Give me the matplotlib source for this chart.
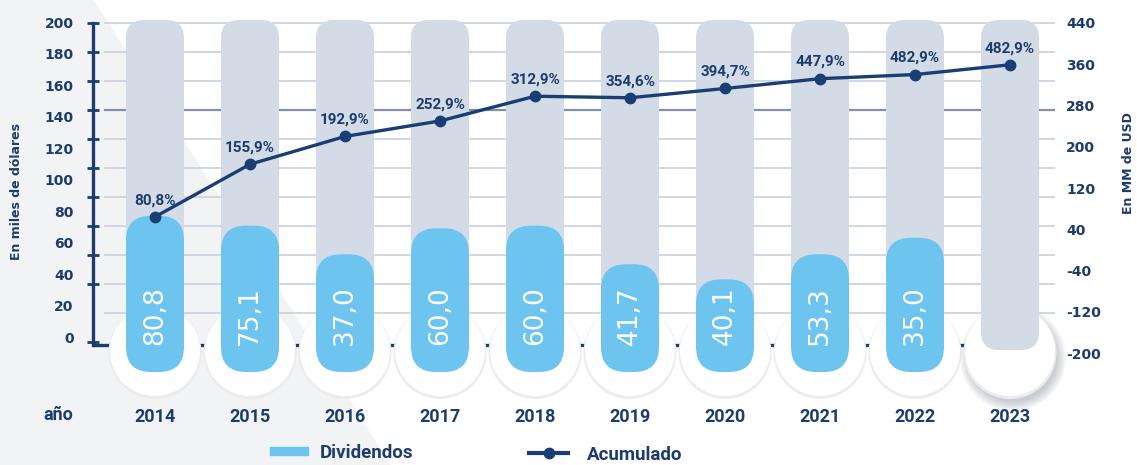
import matplotlib.pyplot as plt
import numpy as np
from matplotlib.patches import FancyBboxPatch, Ellipse, Polygon, Patch
from matplotlib.lines import Line2D

plt.rcParams['axes.unicode_minus'] = False

anios = ['2014', '2015', '2016', '2017', '2018', '2019', '2020', '2021', '2022', '2023']
# dividendos (en miles de dolares), texto de cada barra
dividendos = [80.8, 75.1, 37.0, 60.0, 60.0, 41.7, 40.1, 53.3, 35.0]
# nivel de relleno de cada barra tal como esta dibujado en el grafico (eje izq.)
nivel_barra = [77.0, 70.7, 52.5, 69.0, 70.7, 46.2, 36.6, 52.5, 63.0]
# acumulado: posicion de cada punto sobre el eje derecho y su etiqueta
acumulado = [64, 166, 220, 250, 298, 295, 313, 332, 340, 359]
acumulado_txt = ['80,8%', '155,9%', '192,9%', '252,9%', '312,9%',
                 '354,6%', '394,7%', '447,9%', '482,9%', '482,9%']
ticks_izq = list(range(0, 201, 20))
ticks_der = list(range(-200, 441, 80))

NAVY = '#1d3c6c'
AZUL = '#6cc4ef'
GRIS = '#d3dbe6'

W, H = 1137, 465
fig = plt.figure(figsize=(W / 100, H / 100), dpi=100)
fig.patch.set_facecolor('white')

# fondo diagonal gris claro
fig.add_artist(Polygon([(0, 1), (93 / W, 1), (390 / W, 0), (0, 0)], closed=True,
                       transform=fig.transFigure, color='#f2f3f5', zorder=-10))

top_px, bot_px = 10, 400
left_px, right_px = 93, 1055
pos = [left_px / W, 1 - bot_px / H, (right_px - left_px) / W, (bot_px - top_px) / H]


def ylim_for(v1, p1, v2, p2):
    s = (v1 - v2) / (p2 - p1)
    return (v2 - (bot_px - p2) * s, v1 + (p1 - top_px) * s)


axg = fig.add_axes(pos)   # rejilla y eje izquierdo
ax = fig.add_axes(pos)    # barras y etiquetas izquierdas
ax2 = fig.add_axes(pos)   # linea acumulado (eje derecho)

x = np.arange(len(anios))
xlim = ((left_px - 155) / 95, (right_px - 155) / 95)
for a in (axg, ax, ax2):
    a.set_xlim(*xlim)
    a.set_facecolor('none')
    for s in a.spines.values():
        s.set_visible(False)

axg.set_ylim(*ylim_for(200, 22.7, 0, 313.2))
ax.set_ylim(*ylim_for(200, 22, 0, 337))
ax2.set_ylim(*ylim_for(440, 23, -200, 353))

# rejilla
gx0 = (105 - left_px) / (right_px - left_px)
for v in ticks_izq:
    if v == 140:
        axg.axhline(v, xmin=gx0, color='#8190a8', lw=1.6, zorder=1)
    else:
        axg.axhline(v, xmin=gx0, color='#c9d1dd', lw=1.2, zorder=1)
axg.axhline(-22, color=NAVY, lw=2.4, zorder=1)
axg.spines['left'].set_visible(True)
axg.spines['left'].set_bounds(-22, 200)
axg.spines['left'].set_color(NAVY)
axg.spines['left'].set_linewidth(2.4)
axg.set_yticks([-20] + ticks_izq[1:])
axg.tick_params(axis='y', direction='inout', length=9, width=2, color=NAVY, labelleft=False)
axg.set_xticks([])

# escalas en unidades por pixel
ux = (xlim[1] - xlim[0]) / (right_px - left_px)
uy = 200 / (337 - 22)
asp = uy / ux

w = 58 * ux
gris_top, gris_bot = (337 - 20) * uy, (337 - 350) * uy
azul_bot = (337 - 372) * uy
circ_y = (337 - 351) * uy

for i in x:
    # sombra y circulo blanco
    if i == len(anios) - 1:
        for k in range(7):
            ax.add_patch(Ellipse((i + 3 * ux, circ_y - 7 * uy), (88 + 3 * k) * ux, (88 + 3 * k) * uy,
                                 color='#5d6473', alpha=0.05, lw=0, zorder=2, clip_on=False))
    ax.add_patch(Ellipse((i, circ_y - 1.5 * uy), 93 * ux, 93 * uy, color='#eaecef', lw=0,
                         zorder=2, clip_on=False))
    ax.add_patch(Ellipse((i, circ_y), 90 * ux, 90 * uy, color='white', lw=0, zorder=3,
                         clip_on=False))
    # capsula gris
    ax.add_patch(FancyBboxPatch((i - w / 2, gris_bot), w, gris_top - gris_bot,
                                boxstyle=f'round,pad=0,rounding_size={18 * ux}',
                                mutation_aspect=asp, fc=GRIS, ec='none', zorder=4))

for i, (v, t) in enumerate(zip(nivel_barra, dividendos)):
    ax.add_patch(FancyBboxPatch((i - w / 2, azul_bot), w, v - azul_bot,
                                boxstyle=f'round,pad=0,rounding_size={25 * ux}',
                                mutation_aspect=asp, fc=AZUL, ec='none', zorder=5))
    ax.text(i, (337 - 316) * uy, f'{t:.1f}'.replace('.', ','), rotation=90, color='white',
            fontsize=19, ha='center', va='center', zorder=6)

ax.set_xticks(x, anios)
ax.tick_params(axis='x', length=0, pad=6, labelsize=13, labelcolor=NAVY)
for lab in ax.get_xticklabels():
    lab.set_fontfamily('Roboto')
    lab.set_fontweight('bold')
ax.set_yticks(ticks_izq)
ax.tick_params(axis='y', length=0, pad=14, labelsize=10, labelcolor=NAVY)
for lab in ax.get_yticklabels():
    lab.set_fontweight('bold')

# linea acumulado
ax2.plot(x, acumulado, color='#1a3e74', lw=2.4, marker='o', ms=7.5, zorder=5)
for i, (v, t) in enumerate(zip(acumulado, acumulado_txt)):
    ax2.annotate(t, (i, v), xytext=(0, 12), textcoords='offset points', ha='center', va='center',
                 fontsize=11, fontfamily='Roboto', fontweight='bold', color=NAVY)
ax2.yaxis.tick_right()
ax2.set_yticks(ticks_der)
ax2.tick_params(axis='y', length=0, pad=8, labelsize=10, labelcolor=NAVY)
for lab in ax2.get_yticklabels():
    lab.set_fontweight('bold')
ax2.set_xticks([])

fig.text(17 / W, 1 - 192 / H, 'En miles de dólares', rotation=90, ha='center', va='center',
         fontsize=9, fontweight='bold', color=NAVY)
fig.text(1128 / W, 1 - 163 / H, 'En MM de USD', rotation=90, ha='center', va='center',
         fontsize=9, fontweight='bold', color=NAVY)
fig.text(58 / W, 1 - 415 / H, 'año', ha='center', va='center', fontsize=13,
         fontfamily='Roboto', fontweight='bold', color=NAVY)

leg_font = {'family': 'Roboto', 'weight': 'bold', 'size': 13.5}
l1 = fig.legend([Patch(color=AZUL)], ['Dividendos'], loc='center left',
                bbox_to_anchor=(270 / W, 1 - 453 / H), frameon=False, prop=leg_font,
                handlelength=2.0, handleheight=0.28, handletextpad=0.65,
                borderpad=0, borderaxespad=0, labelcolor=NAVY)
l2 = fig.legend([Line2D([], [], color='#1a3e74', lw=3, marker='o', ms=7.5)], ['Acumulado'],
                loc='center left', bbox_to_anchor=(529 / W, 1 - 455 / H), frameon=False,
                prop=leg_font, handlelength=2.1, handletextpad=1.0,
                borderpad=0, borderaxespad=0, labelcolor=NAVY)

fig.savefig('out.png', dpi=100, facecolor='white')
